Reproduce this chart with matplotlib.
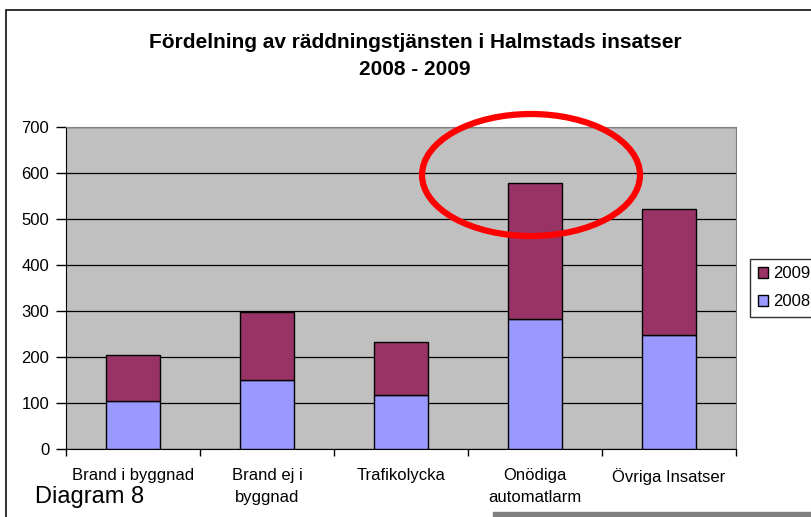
import numpy as np
import matplotlib.pyplot as plt
from matplotlib.patches import Ellipse, Rectangle

plt.rcParams['font.family'] = ['Liberation Sans', 'DejaVu Sans']

# Data
kategorier = ['Brand i byggnad', 'Brand ej i\nbyggnad', 'Trafikolycka',
              'Onödiga\nautomatlarm', 'Övriga Insatser']
v2008 = [105, 150, 118, 282, 248]
v2009 = [100, 148, 115, 297, 274]
yticks = [0, 100, 200, 300, 400, 500, 600, 700]

fig = plt.figure(figsize=(8.11, 5.17), dpi=100)
W, H = 811, 517

# figure frame (extends past right/bottom edge)
fig.patches.append(Rectangle((6 / W, -0.1), 1.0, (H - 10) / H + 0.1,
                             transform=fig.transFigure, fill=False,
                             edgecolor='#202020', linewidth=1.3))

ax = fig.add_axes([66 / W, (H - 449) / H, 670 / W, 322 / H])
ax.set_facecolor('#C0C0C0')
x = np.arange(len(kategorier))
ax.bar(x, v2008, width=0.41, color='#9999FF', edgecolor='black',
       linewidth=1.0, label='2008', zorder=3)
ax.bar(x, v2009, width=0.41, bottom=v2008, color='#993366',
       edgecolor='black', linewidth=1.0, label='2009', zorder=3)

ax.set_xlim(-0.5, 4.5)
ax.set_ylim(0, 700)
ax.set_yticks(yticks)
ax.yaxis.grid(True, color='black', linewidth=0.9, zorder=1)
ax.set_axisbelow(True)
ax.set_xticks(np.arange(-0.5, 5, 1))
ax.set_xticklabels([])
ax.set_xticks(x, minor=True)
ax.set_xticklabels(kategorier, minor=True, fontsize=12,
                   linespacing=1.55, va='top')
ax.tick_params(axis='x', which='minor', length=0, pad=14)
ax.tick_params(axis='x', which='major', length=5, width=1, color='black',
               direction='out')
ax.tick_params(axis='y', length=7, width=1, direction='out', labelsize=12,
               pad=5)
for side in ['top', 'right']:
    ax.spines[side].set_color('#808080')
ax.spines['left'].set_color('black')
ax.spines['bottom'].set_color('black')

fig.text(415 / W, 1 - 56 / H, 'Fördelning av räddningstjänsten i Halmstads insatser\n2008 - 2009',
         ha='center', va='center', fontsize=15, fontweight='bold',
         linespacing=1.55)

# legend
h, l = ax.get_legend_handles_labels()
leg = fig.legend(h[::-1], l[::-1], loc='upper left',
                 bbox_to_anchor=(750 / W, 1 - 259 / H), fontsize=12,
                 frameon=True, fancybox=False, edgecolor='black',
                 handlelength=0.65, handleheight=0.65, handletextpad=0.3,
                 borderpad=0.45, labelspacing=0.75, borderaxespad=0)
leg.get_frame().set_linewidth(1.0)

# red ellipse marking
fig.patches.append(Ellipse((531 / W, 1 - 175 / H), 218 / W, 122 / H,
                           transform=fig.transFigure, fill=False,
                           edgecolor='#FF0000', linewidth=4.5, zorder=10))

fig.text(35 / W, 1 - 497 / H, 'Diagram 8', fontsize=17, va='center')

# gray bar bottom right
fig.patches.append(Rectangle((493 / W, 0), 1.0, 5 / H,
                             transform=fig.transFigure, color='#808080'))

plt.savefig('out.png', dpi=100)
